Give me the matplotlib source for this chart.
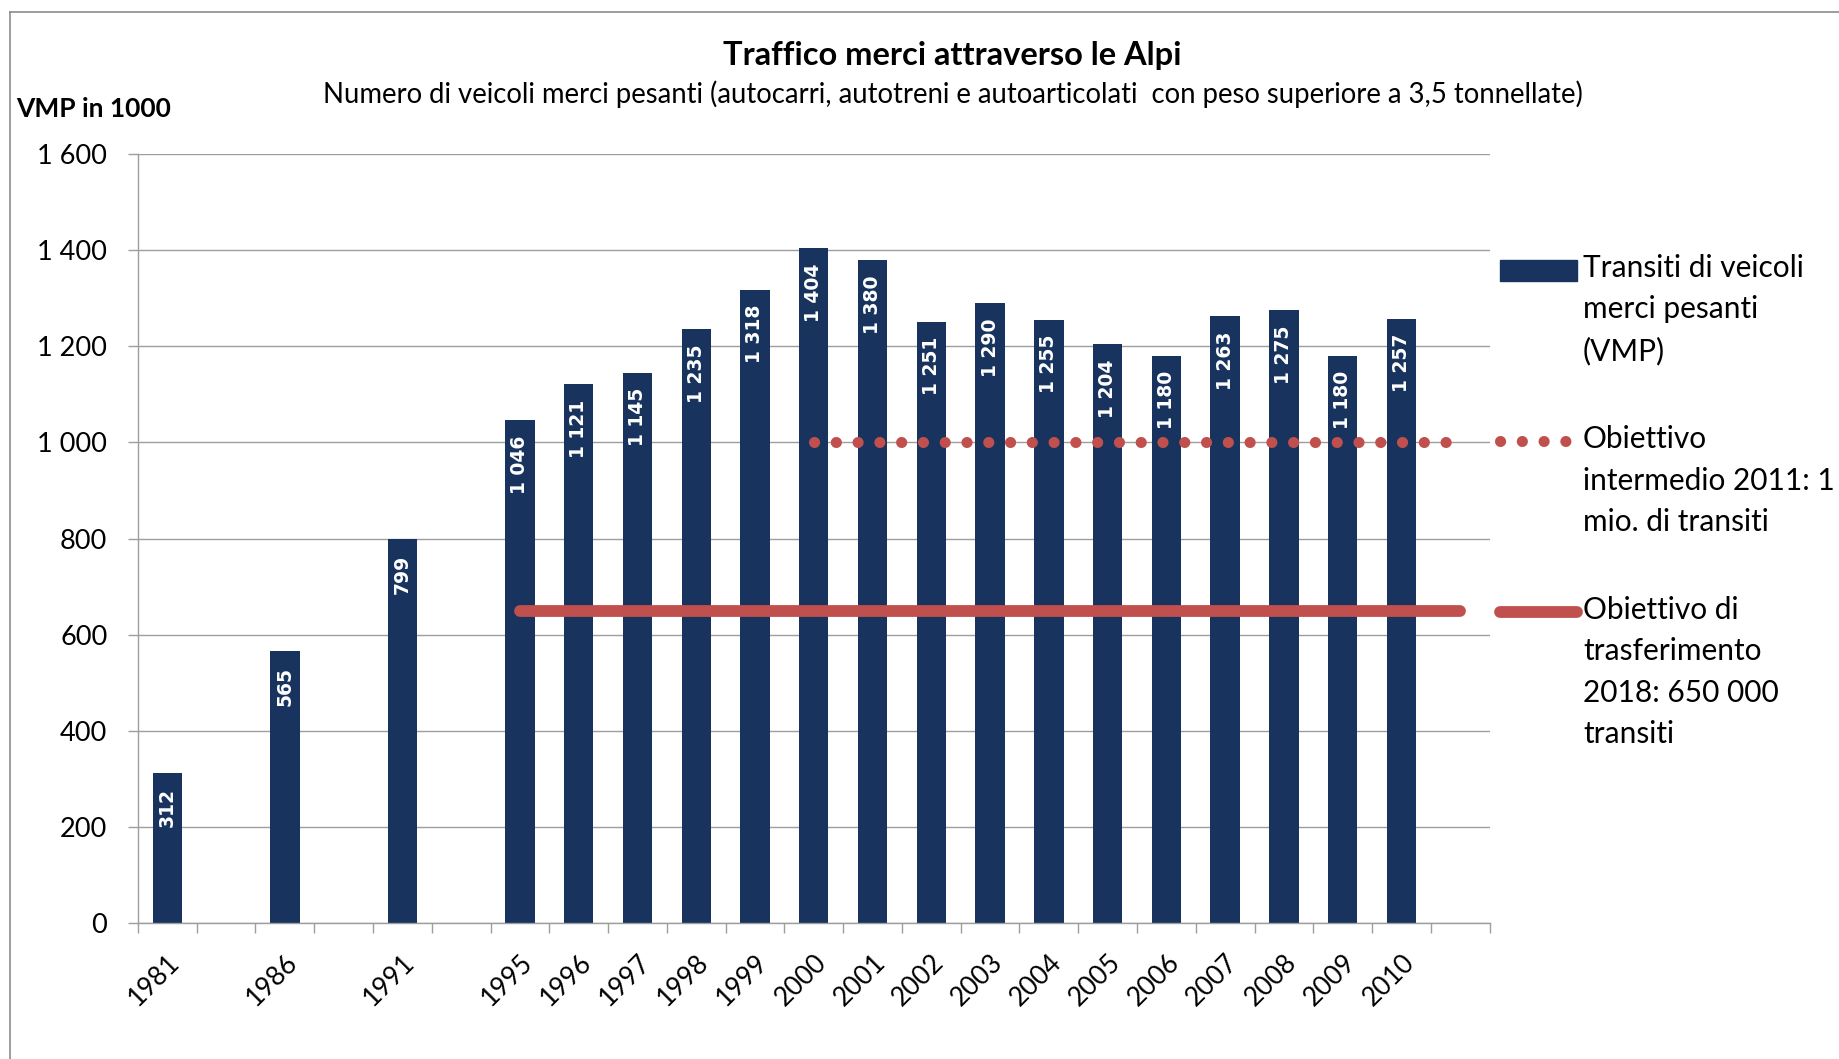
import matplotlib
matplotlib.use("Agg")
import matplotlib.pyplot as plt
from matplotlib.lines import Line2D
from matplotlib.patches import Patch
from matplotlib.legend_handler import HandlerPatch, HandlerLine2D
import numpy as np

# categories on the x axis (blank slots are gaps in the series)
years = ["1981", "", "1986", "", "1991", "", "1995", "1996", "1997", "1998",
         "1999", "2000", "2001", "2002", "2003", "2004", "2005", "2006",
         "2007", "2008", "2009", "2010", ""]

# transits of heavy goods vehicles, in 1000
transits = [312, None, 565, None, 799, None, 1046, 1121, 1145, 1235,
            1318, 1404, 1380, 1251, 1290, 1255, 1204, 1180,
            1263, 1275, 1180, 1257, None]

# targets
target_2011 = [None] * 11 + [1000] * 12
target_2018 = [None] * 6 + [650] * 17

yticks = [0, 200, 400, 600, 800, 1000, 1200, 1400, 1600]
ytick_labels = ["0", "200", "400", "600", "800", "1 000", "1 200", "1 400", "1 600"]

navy = "#17335E"
red = "#C0504D"
grid = "#9E9E9E"
font = ["Lato", "DejaVu Sans"]
plt.rcParams["font.family"] = font

LEG_FS = 21.5
PITCH = 29.2  # legend line pitch in points


# legend handles sit next to the first line of their label, not its middle
class TopPatch(HandlerPatch):
    def __init__(self, nlines, **kw):
        super().__init__(**kw)
        self.shift = (nlines - 1) / 2 * PITCH

    def create_artists(self, legend, orig_handle, xdescent, ydescent, width,
                       height, fontsize, trans):
        return super().create_artists(legend, orig_handle, xdescent,
                                      ydescent - self.shift, width, height,
                                      fontsize, trans)


class TopLine(HandlerLine2D):
    def __init__(self, nlines, **kw):
        super().__init__(**kw)
        self.shift = (nlines - 1) / 2 * PITCH

    def create_artists(self, legend, orig_handle, xdescent, ydescent, width,
                       height, fontsize, trans):
        return super().create_artists(legend, orig_handle, xdescent, ydescent,
                                      width, height + 2 * self.shift,
                                      fontsize, trans)


fig = plt.figure(figsize=(18.39, 10.59), dpi=100)
ax = fig.add_axes([0.075, 0.1284, 0.735, 0.7262])

x = np.arange(len(years))
bar_x = [i for i, v in enumerate(transits) if v is not None]
bar_v = [v for v in transits if v is not None]
ax.bar(bar_x, bar_v, width=0.5, color=navy, zorder=2)

for xi, v in zip(bar_x, bar_v):
    ax.annotate(f"{v:,}".replace(",", " "), (xi, v), xytext=(0, -11),
                textcoords="offset points", rotation=90, ha="center", va="top",
                color="white", fontsize=13.5, fontweight="bold",
                family="DejaVu Sans", zorder=3)

t18 = np.array([np.nan if v is None else v for v in target_2018], dtype=float)
t11 = np.array([np.nan if v is None else v for v in target_2011], dtype=float)
dots = (0, (0.01, 1.95))
ax.plot(x, t18, color=red, lw=8.5, solid_capstyle="round", zorder=4)
ax.plot(x, t11, color=red, lw=8, linestyle=dots, dash_capstyle="round", zorder=4)

ax.set_xlim(-0.5, len(years) - 0.5)
ax.set_ylim(0, 1600)
ax.set_yticks(yticks)
ax.set_yticklabels(ytick_labels, fontsize=19.5)
ax.set_xticks(x)
ax.set_xticklabels(years, rotation=45, ha="right", rotation_mode="anchor", fontsize=19)
ax.set_xticks(np.arange(-0.5, len(years)), minor=True)
ax.tick_params(axis="x", which="major", length=0, pad=19)
ax.tick_params(axis="x", which="minor", length=7, color=grid, width=1)
ax.tick_params(axis="y", length=7, color=grid, width=1, pad=15)
ax.yaxis.grid(True, color=grid, lw=1)
ax.set_axisbelow(True)
for s in ["top", "right"]:
    ax.spines[s].set_visible(False)
for s in ["left", "bottom"]:
    ax.spines[s].set_color(grid)
    ax.spines[s].set_linewidth(1)

fig.text(0.518, 0.948, "Traffico merci attraverso le Alpi", ha="center", va="center",
         fontsize=23.5, fontweight="bold")
fig.text(0.518, 0.911, "Numero di veicoli merci pesanti (autocarri, autotreni e autoarticolati  con peso superiore a 3,5 tonnellate)",
         ha="center", va="center", fontsize=19.8)
fig.text(0.009, 0.897, "VMP in 1000", ha="left", va="center", fontsize=19, fontweight="bold")

h_bar = Patch(color=navy)
h_dot = Line2D([], [], color=red, lw=8, linestyle=dots, dash_capstyle="round")
h_sol = Line2D([], [], color=red, lw=8.5, solid_capstyle="round")
labels = ["Transiti di veicoli\nmerci pesanti\n(VMP)",
          "Obiettivo\nintermedio 2011: 1\nmio. di transiti",
          "Obiettivo di\ntrasferimento\n2018: 650 000\ntransiti"]
leg = ax.legend([h_bar, h_dot, h_sol], labels, loc="upper left",
                bbox_to_anchor=(1.008, 0.870), frameon=False, fontsize=LEG_FS,
                handlelength=2.57, handletextpad=0.2, labelspacing=2.0,
                borderpad=0, borderaxespad=0,
                handler_map={h_bar: TopPatch(3), h_dot: TopLine(3), h_sol: TopLine(4)})
for t in leg.get_texts():
    t.set_linespacing(1.58)

# outer frame of the original picture
fig.add_artist(Line2D([0.0054, 1.0], [0.989, 0.989], color="#8C8C8C", lw=1.2))
fig.add_artist(Line2D([0.0054, 0.0054], [0.0, 0.989], color="#8C8C8C", lw=1.2))

fig.savefig("out.png", dpi=100)
